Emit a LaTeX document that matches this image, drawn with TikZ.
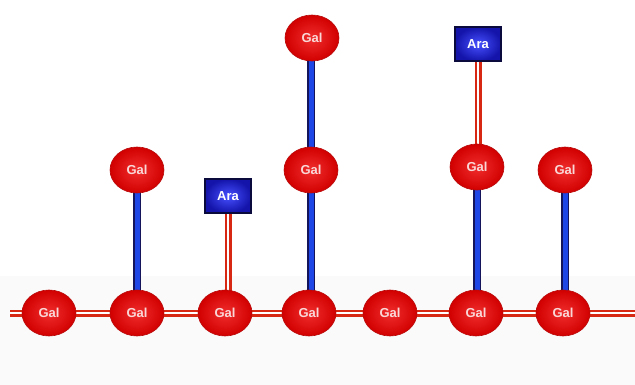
\documentclass[tikz,border=0pt]{standalone}
\usepackage{fontspec}
\setmainfont{Liberation Sans}
\usetikzlibrary{shapes.geometric,backgrounds}
\definecolor{galedge}{RGB}{185,10,10}
\definecolor{galin}{RGB}{240,45,45}
\definecolor{galout}{RGB}{210,0,0}
\definecolor{galtext}{RGB}{250,215,215}
\definecolor{araedge}{RGB}{10,10,60}
\definecolor{arain}{RGB}{70,80,255}
\definecolor{araout}{RGB}{20,20,170}
\definecolor{redl}{RGB}{215,40,20}
\definecolor{bluedark}{RGB}{20,20,90}
\definecolor{bluel}{RGB}{30,70,230}
\definecolor{bandgray}{RGB}{250,250,250}
\begin{document}
\begin{tikzpicture}[x=1pt,y=-1pt,
  gal/.style={ellipse,minimum width=54pt,minimum height=46pt,inner sep=0pt,
    draw=galedge,line width=0.6pt,inner color=galin,outer color=galout,
    text=galtext,font=\bfseries\fontsize{13}{14}\selectfont},
  ara/.style={rectangle,minimum width=46pt,minimum height=34pt,inner sep=0pt,
    draw=araedge,line width=2pt,inner color=arain,outer color=araout,
    text=white,font=\bfseries\fontsize{13}{14}\selectfont},
  redline/.style={draw=redl,line width=7pt,
    postaction={draw=white,line width=2.6pt}},
  blueline/.style={draw=bluedark,line width=8pt,
    postaction={draw=bluel,line width=5pt}}]
\useasboundingbox (0,0) rectangle (635,385);
% nodes
\node[gal] (g1) at (49,313) {Gal};
\node[gal] (g2) at (137,313) {Gal};
\node[gal] (g3) at (225,313) {Gal};
\node[gal] (g4) at (309,313) {Gal};
\node[gal] (g5) at (390,313) {Gal};
\node[gal] (g6) at (476,313) {Gal};
\node[gal] (g7) at (563,313) {Gal};
\coordinate (L) at (10,313);
\coordinate (R) at (635,313);
\node[gal] (u2) at (137,170) {Gal};
\node[ara] (a3) at (228,196) {Ara};
\node[gal] (u4) at (311,170) {Gal};
\node[gal] (t4) at (312,38) {Gal};
\node[gal] (u6) at (477,167) {Gal};
\node[ara] (a6) at (478,44) {Ara};
\node[gal] (u7) at (565,170) {Gal};
\begin{scope}[on background layer]
\fill[white] (0,0) rectangle (635,385);
\fill[bandgray] (0,276) rectangle (635,385);
\draw[redline] (L) -- (R);
\draw[blueline] (u2.center) -- (g2.center);
\draw[redline] (a3.center) -- (a3.center |- g3.center);
\draw[blueline] (u4.center |- t4.center) -- (u4.center);
\draw[blueline] (u4.center) -- (u4.center |- g4.center);
\draw[redline] (a6.center) -- (a6.center |- u6.center);
\draw[blueline] (u6.center) -- (u6.center |- g6.center);
\draw[blueline] (u7.center) -- (u7.center |- g7.center);
\end{scope}
\end{tikzpicture}
\end{document}
